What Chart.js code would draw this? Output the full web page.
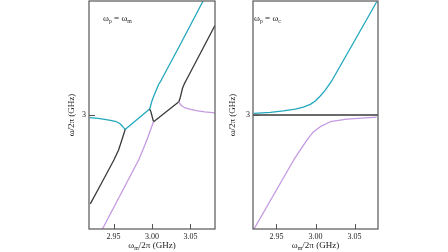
<!DOCTYPE html>
<html><head><meta charset="utf-8">
<script src="https://cdn.jsdelivr.net/npm/chart.js@4.4.1/dist/chart.umd.min.js"></script>
<style>html,body{margin:0;padding:0;background:#fff;overflow:hidden;width:448px;height:252px}
canvas{position:absolute;left:0;top:0}</style></head>
<body>
<canvas id="c1" width="448" height="252"></canvas>
<canvas id="c2" width="448" height="252"></canvas>
<script>
// ---- tick labels ----
const xTicks = [2.95, 3.00, 3.05];
const yTicks = [3];

// ---- left panel (ωp = ωm) ----
const leftCyan = [[2.919,2.9979],[2.930,2.9973],[2.9383,2.9966],[2.946,2.9958],[2.9535,2.9947],[2.958,2.9933],[2.961,2.9915],[2.963,2.990],[2.965,2.9886],[2.9969,3.0047],[2.9982,3.0071],[2.9995,3.0103],[3.0012,3.0132],[3.0034,3.0166],[3.0056,3.0197],[3.0086,3.0241],[3.0121,3.0276],[3.0385,3.0576],[3.0665,3.0900]];
const leftBlackA = [[2.9197,2.9298],[2.9344,2.9463],[2.9504,2.9645],[2.9565,2.9724],[2.960,2.9789],[2.9624,2.9834],[2.9643,2.9870],[2.965,2.9886]];
const leftBlackB = [[2.9969,3.0047],[2.9982,3.0032],[2.9997,3.0000],[3.0010,2.9968],[3.0021,2.9947],[3.0350,3.0105],[3.0366,3.0134],[3.0381,3.0171],[3.0398,3.0213],[3.0424,3.0250],[3.0447,3.0276],[3.0819,3.0706]];
const leftPurpleA = [[2.9353,2.9098],[2.9826,2.9645],[2.9891,2.9740],[2.9943,2.9819],[2.9975,2.9874],[2.9999,2.9913],[3.0012,2.9935],[3.0021,2.9947]];
const leftPurpleB = [[3.0350,3.0105],[3.0366,3.0087],[3.0385,3.0073],[3.0424,3.0059],[3.0490,3.0047],[3.0577,3.0034],[3.0685,3.0024],[3.0819,3.0017]];

// ---- right panel (ωp = ωc) ----
const rightCyan = [[2.921,3.0013],[2.9423,3.0021],[2.9589,3.0032],[2.9742,3.0047],[2.9844,3.0063],[2.9934,3.0084],[2.9997,3.0110],[3.0061,3.0150],[3.0125,3.0197],[3.0214,3.0276],[3.0444,3.0525],[3.0784,3.0894]];
const rightBlack = [[2.92,3.0],[3.08,3.0]];
const rightPurple = [[2.921,2.9097],[2.9721,2.9645],[2.9806,2.9724],[2.9892,2.9803],[2.9972,2.9866],[3.0061,2.9908],[3.0189,2.9947],[3.0402,2.9968],[3.0784,2.9984]];

const CYAN = '#22a8bd', PURPLE = '#c59ae2', BLACK = '#3a3a3a';
const FONT = '"Liberation Serif", "DejaVu Serif", serif';

function ds(points, color) {
  return { data: points.map(p => ({x: p[0], y: p[1]})), borderColor: color, borderWidth: 1.3,
           pointRadius: 0, fill: false, tension: 0, borderJoinStyle: 'round' };
}

function drawRich(ctx, parts, x, y, size, align) {
  const sub = size * 0.65;
  let w = 0;
  parts.forEach(p => { ctx.font = (p.sub ? sub : size) + 'px ' + FONT; w += ctx.measureText(p.t).width; });
  let cx = align === 'center' ? x - w / 2 : x;
  ctx.textBaseline = 'alphabetic';
  ctx.textAlign = 'left';
  parts.forEach(p => {
    ctx.font = (p.sub ? sub : size) + 'px ' + FONT;
    ctx.fillText(p.t, cx, y + (p.sub ? size * 0.22 : 0));
    cx += ctx.measureText(p.t).width;
  });
}

const framePlugin = {
  id: 'frame',
  afterDatasetsDraw(chart, args, opts) {
    const {ctx, chartArea: a, scales: {x, y}} = chart;
    ctx.save();
    ctx.strokeStyle = '#555';
    ctx.lineWidth = 1.2;
    ctx.strokeRect(a.left, a.top, a.right - a.left, a.bottom - a.top);
    ctx.lineWidth = 1;
    ctx.beginPath();
    xTicks.forEach(v => { const px = Math.round(x.getPixelForValue(v)) + 0.5; ctx.moveTo(px, a.bottom); ctx.lineTo(px, a.bottom - 5); });
    yTicks.forEach(v => { const py = Math.round(y.getPixelForValue(v)) + 0.5; ctx.moveTo(a.left, py); ctx.lineTo(a.left + 6, py); });
    ctx.stroke();
    ctx.fillStyle = '#222';
    drawRich(ctx, opts.annot, a.left + opts.annotDx, 21, 9, 'left');
    drawRich(ctx, [{t:'ω'},{t:'m',sub:true},{t:'/2π (GHz)'}], (a.left + a.right) / 2, 248, 9, 'center');
    ctx.restore();
  }
};

function makeChart(id, xmin, xmax, datasets, padLeft, padRight, titlePad, annot, annotDx) {
  return new Chart(document.getElementById(id), {
    type: 'line',
    data: { datasets },
    options: {
      responsive: false, animation: false, devicePixelRatio: 1,
      layout: { padding: { left: padLeft, right: padRight, top: 1, bottom: 0 } },
      plugins: { legend: { display: false }, tooltip: { enabled: false },
                 frame: { annot, annotDx } },
      scales: {
        x: { type: 'linear', min: xmin, max: xmax,
             afterBuildTicks: s => { s.ticks = xTicks.map(v => ({value: v})); },
             ticks: { callback: v => Number(v).toFixed(2), font: { family: FONT, size: 8 }, color: '#222',
                      padding: 3, maxRotation: 0, autoSkip: false },
             grid: { display: false, drawTicks: false }, border: { display: false },
             afterFit: s => { s.height = 23; s.paddingLeft = 0; s.paddingRight = 0; } },
        y: { type: 'linear', min: 2.91, max: 3.09,
             afterBuildTicks: s => { s.ticks = yTicks.map(v => ({value: v})); },
             ticks: { callback: v => String(v), font: { family: FONT, size: 8 }, color: '#222', padding: 3 },
             grid: { display: false, drawTicks: false }, border: { display: false },
             title: { display: true, text: 'ω/2π (GHz)', color: '#222', font: { family: FONT, size: 9 },
                      padding: { top: titlePad, bottom: 0 } },
             afterFit: s => { s.width = 29; s.paddingTop = 0; s.paddingBottom = 0; } }
      }
    },
    plugins: [framePlugin]
  });
}

makeChart('c1', 2.918, 3.082,
  [ds(leftPurpleA, PURPLE), ds(leftPurpleB, PURPLE), ds(leftBlackA, BLACK), ds(leftBlackB, BLACK), ds(leftCyan, CYAN)],
  60, 233, 6.5, [{t:'ω'},{t:'p',sub:true},{t:' = ω'},{t:'m',sub:true}], 14);
makeChart('c2', 2.92, 3.08,
  [ds(rightPurple, PURPLE), ds(rightCyan, CYAN), ds(rightBlack, BLACK)],
  224, 70, 3.5, [{t:'ω'},{t:'p',sub:true},{t:' = ω'},{t:'c',sub:true}], 1);
</script>
</body></html>
